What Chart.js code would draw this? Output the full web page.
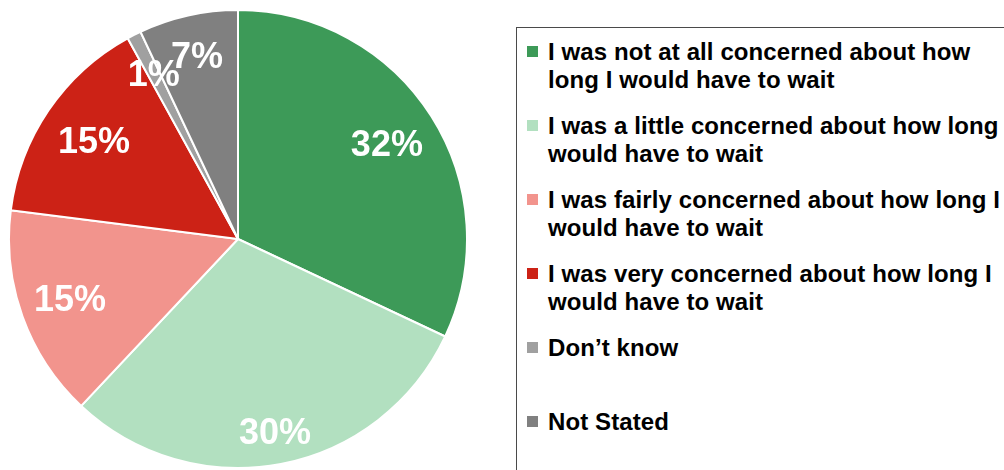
<!doctype html>
<html lang="en">

<head>
    <meta charset="utf-8">
    <title>Concern about waiting time</title>
    <style>
        * {
            margin: 0;
            padding: 0;
            font-family: "Liberation Sans", Arial, sans-serif;
        }

        body {
            width: 1004px;
            height: 470px;
            overflow: hidden;
            background: #fff;
            position: relative;
        }

        .pieBox {
            position: absolute;
            left: 8px;
            top: 9px;
            width: 460px;
            height: 460px;
        }

        .legendBox {
            position: absolute;
            left: 516px;
            top: 27px;
            width: 620px;
            height: 600px;
            border: 1.5px solid #4a4a4a;
            padding-top: 10px;
        }

        .legendItem {
            display: flex;
            align-items: flex-start;
            min-height: 56px;
            margin-bottom: 18px;
        }

        .legendItem span.swatch {
            flex: none;
            width: 11px;
            height: 11px;
            margin: 8px 10px 0 10px;
        }

        .legendItem span.text {
            width: 470px;
            font-size: 24px;
            font-weight: bold;
            line-height: 28px;
            letter-spacing: 0.1px;
            color: #000;
        }
    </style>
</head>

<body>
    <div class="pieBox">
        <canvas id="myChart" width="460" height="460"></canvas>
    </div>
    <div class="legendBox" id="legend"></div>

    <script type="text/javascript" src="https://cdn.jsdelivr.net/npm/chart.js/dist/chart.umd.min.js"></script>
    <script>
        // data
        const categories = [
            'I was not at all concerned about how long I would have to wait',
            'I was a little concerned about how long I would have to wait',
            'I was fairly concerned about how long I would have to wait',
            'I was very concerned about how long I would have to wait',
            'Don\u2019t know',
            'Not Stated'
        ];
        const percentages = [32, 30, 15, 15, 1, 7];

        const sliceColors = ['#3d9a58', '#b2e0c0', '#f2948d', '#cc2216', '#a0a0a0', '#808080'];
        // how far out (share of the radius) each percentage sits
        const labelRadius = [0.77, 0.86, 0.78, 0.76, 0.81, 0.82];

        // white percentage text on each slice
        const sliceLabels = {
            id: 'sliceLabels',
            afterDatasetsDraw(chart) {
                const { ctx } = chart;
                const meta = chart.getDatasetMeta(0);
                ctx.save();
                ctx.font = 'bold 36px "Liberation Sans", Arial, sans-serif';
                ctx.fillStyle = '#ffffff';
                ctx.textAlign = 'center';
                ctx.textBaseline = 'middle';
                meta.data.forEach((arc, i) => {
                    const { x, y, startAngle, endAngle, outerRadius } = arc.getProps(
                        ['x', 'y', 'startAngle', 'endAngle', 'outerRadius'], true);
                    const mid = (startAngle + endAngle) / 2;
                    const r = outerRadius * labelRadius[i];
                    ctx.fillText(percentages[i] + '%', x + Math.cos(mid) * r, y + Math.sin(mid) * r + 2);
                });
                ctx.restore();
            }
        };

        const config = {
            type: 'pie',
            data: {
                labels: categories,
                datasets: [{
                    data: percentages,
                    backgroundColor: sliceColors,
                    borderColor: '#ffffff',
                    borderWidth: 2
                }]
            },
            options: {
                responsive: false,
                animation: false,
                layout: { padding: 0 },
                plugins: {
                    legend: { display: false },
                    tooltip: { enabled: false }
                }
            },
            plugins: [sliceLabels]
        };

        const myChart = new Chart(document.getElementById('myChart'), config);

        // legend on the right, with wrapped labels
        const legendEl = document.getElementById('legend');
        categories.forEach((label, i) => {
            const item = document.createElement('div');
            item.className = 'legendItem';
            const swatch = document.createElement('span');
            swatch.className = 'swatch';
            swatch.style.background = sliceColors[i];
            const text = document.createElement('span');
            text.className = 'text';
            text.textContent = label;
            item.appendChild(swatch);
            item.appendChild(text);
            legendEl.appendChild(item);
        });
    </script>
</body>

</html>
